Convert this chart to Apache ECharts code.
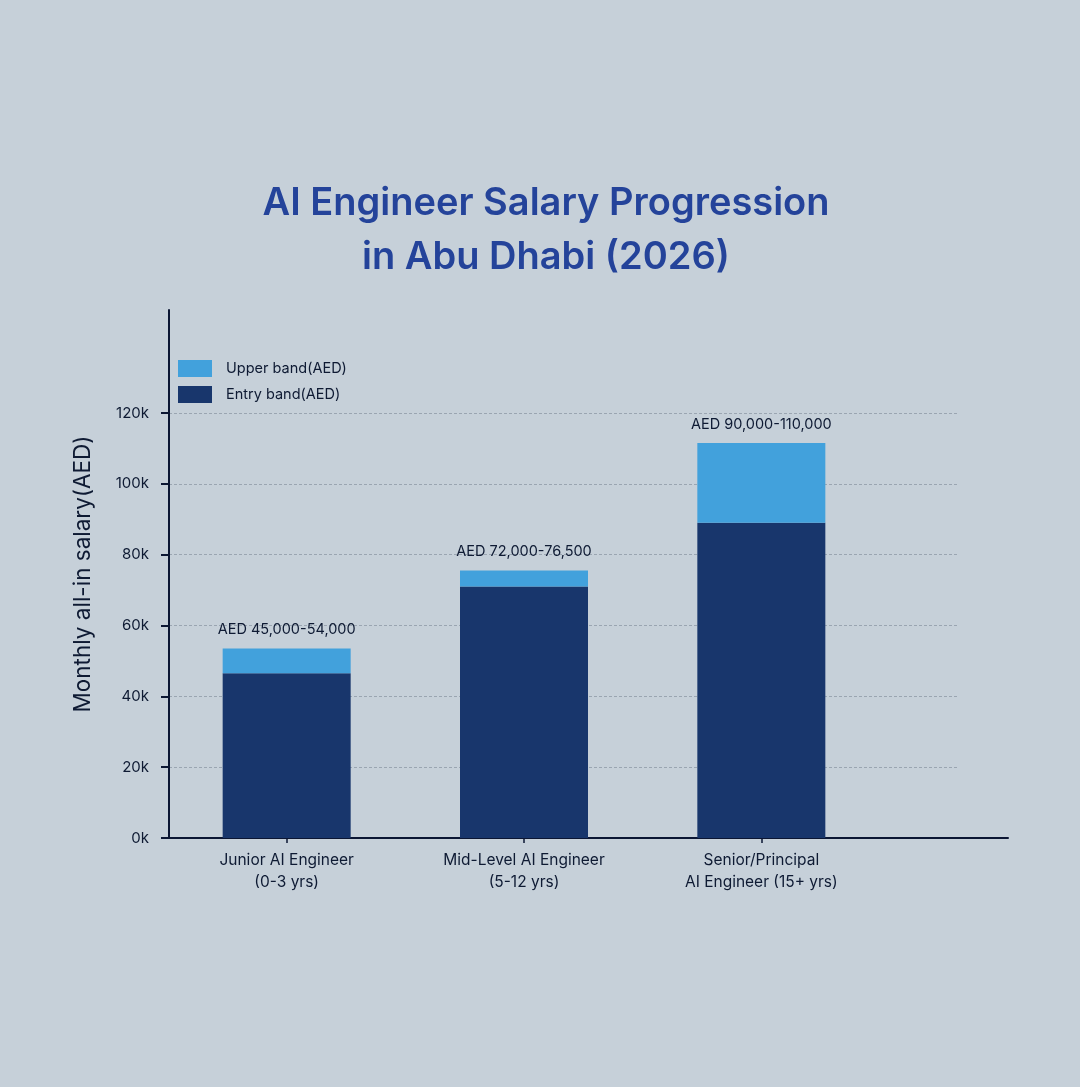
<!DOCTYPE html>
<html>
<head>
<meta charset="utf-8">
<title>AI Engineer Salary Progression</title>
<script src="https://cdn.jsdelivr.net/npm/echarts@6/dist/echarts.min.js"></script>
<style>
    html, body { margin: 0; padding: 0; background: #C6D0D9; }
    #chart { width: 1080px; height: 1087px; }
</style>
</head>
<body>
<div id="chart"></div>
<script>
// 数据
const categories = ['Junior AI Engineer\n(0-3 yrs)', 'Mid-Level AI Engineer\n(5-12 yrs)', 'Senior/Principal\nAI Engineer (15+ yrs)'];
const entryBand = [46.5, 71, 89];      // k AED
const upperBand = [7, 4.5, 22.5];      // 叠加在 entry 上
const rangeLabels = ['AED 45,000-54,000', 'AED 72,000-76,500', 'AED 90,000-110,000'];
const yTicks = [0, 20, 40, 60, 80, 100, 120];

const darkText = '#0E1A33';
const axisColor = '#0B1633';

document.addEventListener('DOMContentLoaded', () => {
    initSalaryChart();
});

function initSalaryChart() {
    const chartDom = document.getElementById('chart');
    const myChart = echarts.init(chartDom);

    const option = {
        backgroundColor: '#C6D0D9',
        textStyle: { fontFamily: 'Inter, "Open Sans", sans-serif' },
        title: {
            text: 'AI Engineer Salary Progression\nin Abu Dhabi (2026)',
            left: 541,
            textAlign: 'center',
            top: 172,
            textStyle: {
                color: '#24439A',
                fontSize: 38,
                fontWeight: 600,
                lineHeight: 54,
                fontFamily: 'Inter, sans-serif'
            }
        },
        legend: {
            data: ['Upper band(AED)', 'Entry band(AED)'],
            orient: 'vertical',
            left: 178,
            top: 360,
            padding: 0,
            itemWidth: 34,
            itemHeight: 17,
            itemGap: 9,
            icon: 'rect',
            textStyle: { color: darkText, fontSize: 14.5, padding: [0, 0, 0, 9] }
        },
        grid: [
            // 0: bars
            { left: 168, right: 200, top: 413, bottom: 249, containLabel: false },
            // 1: grid lines + y labels
            { left: 169, right: 122, top: 413, bottom: 249, containLabel: false },
            // 2: axis frame
            { left: 169, right: 72, top: 310, bottom: 249, containLabel: false }
        ],
        xAxis: [
            {
                type: 'category',
                gridIndex: 0,
                data: categories,
                axisLine: { show: false },
                axisTick: { show: true, alignWithLabel: true, length: 5, lineStyle: { color: axisColor, width: 1.5 } },
                axisLabel: { color: darkText, fontSize: 15.5, lineHeight: 22, margin: 11 }
            },
            {
                type: 'value', gridIndex: 1, show: false
            },
            {
                type: 'value', gridIndex: 2,
                axisLine: { show: true, onZero: false, lineStyle: { color: axisColor, width: 2 } },
                axisTick: { show: false }, axisLabel: { show: false }, splitLine: { show: false }
            }
        ],
        yAxis: [
            {
                type: 'value', gridIndex: 0, min: 0, max: 120, interval: 20, show: false
            },
            {
                type: 'value', gridIndex: 1, min: 0, max: 120, interval: 20,
                axisLine: { show: false },
                axisTick: { show: true, inside: false, length: 8, lineStyle: { color: axisColor, width: 2 } },
                axisLabel: {
                    color: darkText, fontSize: 15, margin: 20,
                    formatter: v => yTicks.indexOf(v) >= 0 ? v + 'k' : ''
                },
                splitLine: { show: true, lineStyle: { color: '#9AA5B1', type: [3, 2], width: 1 } }
            },
            {
                type: 'value', gridIndex: 2, min: 0, max: 1,
                axisLine: { show: true, lineStyle: { color: axisColor, width: 2 } },
                axisTick: { show: false }, axisLabel: { show: false }, splitLine: { show: false },
                name: 'Monthly all-in salary(AED)',
                nameLocation: 'middle',
                nameGap: 74,
                nameTextStyle: { color: darkText, fontSize: 22.5 }
            }
        ],
        series: [
            {
                name: 'Entry band(AED)',
                type: 'bar',
                stack: 'salary',
                xAxisIndex: 0,
                yAxisIndex: 0,
                data: entryBand,
                barWidth: 128,
                itemStyle: { color: '#18366C' }
            },
            {
                name: 'Upper band(AED)',
                type: 'bar',
                stack: 'salary',
                xAxisIndex: 0,
                yAxisIndex: 0,
                data: upperBand,
                barWidth: 128,
                itemStyle: { color: '#42A1DC' },
                label: {
                    show: true,
                    position: 'top',
                    distance: 11,
                    color: darkText,
                    fontSize: 14.5,
                    formatter: p => rangeLabels[p.dataIndex]
                }
            }
        ]
    };

    myChart.setOption(option);

    window.addEventListener('resize', () => {
        myChart.resize();
    });
}
</script>
</body>
</html>
